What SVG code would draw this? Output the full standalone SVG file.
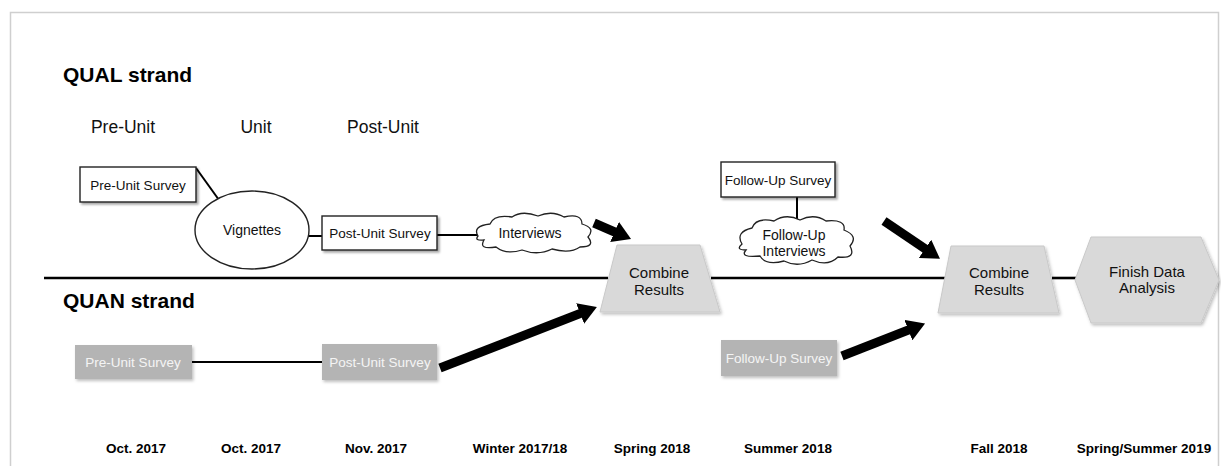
<svg xmlns="http://www.w3.org/2000/svg" width="1221" height="466" viewBox="0 0 1221 466">
<defs>
<style>
.t{font-family:"Liberation Sans",Arial,sans-serif;fill:#111;text-anchor:middle}
.h{font-family:"Liberation Sans",Arial,sans-serif;font-weight:bold;font-size:21px;fill:#000}
.ph{font-size:17.5px}
.bx{font-size:13.5px}
.nd{font-size:14px}
.sh{font-size:15px}
.dt{font-size:13.5px;font-weight:bold;fill:#000}
.wbox{fill:#fff;stroke:#222;stroke-width:1.4;filter:url(#ds)}
.gbox{fill:#b4b4b4;filter:url(#ds2)}
.gt{fill:#f4f4f4}
.gshape{fill:#d9d9d9;stroke:#c9c9c9;stroke-width:1;filter:url(#ds2)}
.ln{stroke:#000;stroke-width:2;fill:none}
.main{stroke:#000;stroke-width:2.6;fill:none}
.big{stroke:#000;stroke-width:9;fill:none;marker-end:url(#ah)}
</style>
<filter id="ds" x="-10%" y="-10%" width="130%" height="140%">
<feDropShadow dx="2" dy="2" stdDeviation="1.2" flood-color="#000" flood-opacity="0.35"/>
</filter>
<filter id="ds2" x="-10%" y="-10%" width="130%" height="140%">
<feDropShadow dx="1.5" dy="2" stdDeviation="1.5" flood-color="#000" flood-opacity="0.25"/>
</filter>
<marker id="ah" markerUnits="userSpaceOnUse" viewBox="0 0 18 22" markerWidth="18" markerHeight="22" refX="9" refY="11" orient="auto">
<path d="M0,0 L18,11 L0,22 Z" fill="#000"/>
</marker>
</defs>
<rect x="0" y="0" width="1221" height="466" fill="#fff"/>
<rect x="10.5" y="12.5" width="1208" height="480" fill="none" stroke="#cfcfcf" stroke-width="1.5"/>

<g id="labels">
<text class="h" x="63" y="82">QUAL strand</text>
<text class="h" x="63" y="308">QUAN strand</text>
<text class="t ph" x="123" y="133">Pre-Unit</text>
<text class="t ph" x="256" y="133">Unit</text>
<text class="t ph" x="383" y="133">Post-Unit</text>
</g>

<g id="connectors">
<line class="main" x1="44" y1="278" x2="608" y2="278"/>
<line class="main" x1="711" y1="278" x2="947" y2="278"/>
<line class="main" x1="1052" y1="278" x2="1076" y2="278"/>
<line class="ln" x1="196" y1="168" x2="219" y2="200"/>
<line class="ln" x1="307" y1="236" x2="322" y2="236"/>
<line class="ln" x1="437" y1="235" x2="478" y2="235"/>
<line class="ln" x1="797" y1="197" x2="797" y2="220"/>
<line class="ln" x1="192" y1="362" x2="322" y2="362"/>
<line class="big" x1="594" y1="223" x2="622.8" y2="235.5"/>
<line class="big" x1="440" y1="368" x2="588.5" y2="310.3"/>
<line class="big" x1="884" y1="221" x2="932.5" y2="253.8"/>
<line class="big" x1="842" y1="356" x2="916.7" y2="326.8"/>
</g>

<g id="qual-pre-survey">
<rect class="wbox" x="80" y="167" width="116" height="35"/>
<text class="t bx" x="138" y="190">Pre-Unit Survey</text>
</g>
<g id="vignettes">
<ellipse cx="252" cy="230" rx="57" ry="39" fill="#fff" stroke="#222" stroke-width="1.4"/>
<text class="t nd" x="252" y="235">Vignettes</text>
</g>
<g id="qual-post-survey">
<rect class="wbox" x="322" y="216" width="115" height="34"/>
<text class="t bx" x="380" y="238">Post-Unit Survey</text>
</g>
<g id="interviews">
<path d="M478,236 Q472,226 490,224 Q494,214 512,217 Q522,210 538,216 Q552,210 564,217 Q582,213 582,224 Q596,228 588,237 Q596,247 580,247 Q570,254 552,249 Q538,256 522,250 Q506,255 496,247 Q478,250 484,240 Q474,241 478,236 Z" fill="#fff" stroke="#222" stroke-width="1.3"/>
<text class="t nd" x="530" y="238">Interviews</text>
</g>
<g id="followup-survey">
<rect class="wbox" x="721" y="162" width="114" height="35"/>
<text class="t bx" x="778" y="185">Follow-Up Survey</text>
</g>
<g id="followup-interviews">
<path d="M742,244 Q735,232 752,228 Q756,217 774,221 Q786,213 800,220 Q814,213 826,221 Q846,219 844,230 Q859,236 850,246 Q857,259 838,257 Q828,267 812,260 Q798,268 784,261 Q766,266 760,256 Q739,258 746,250 Q735,250 742,244 Z" fill="#fff" stroke="#222" stroke-width="1.3"/>
<text class="t nd" x="794" y="240">Follow-Up</text>
<text class="t nd" x="794" y="256">Interviews</text>
</g>
<g id="combine-1">
<polygon class="gshape" points="617,245 700,245 720,312 600,312"/>
<text class="t sh" x="659" y="278">Combine</text>
<text class="t sh" x="659" y="295">Results</text>
</g>
<g id="combine-2">
<polygon class="gshape" points="951,246 1044,246 1059,313 938,313"/>
<text class="t sh" x="999" y="278">Combine</text>
<text class="t sh" x="999" y="295">Results</text>
</g>
<g id="finish">
<polygon class="gshape" points="1075,280 1091,237 1201,237 1219,280 1201,323 1091,323"/>
<text class="t sh" x="1147" y="277">Finish Data</text>
<text class="t sh" x="1147" y="293">Analysis</text>
</g>
<g id="quan-pre-survey">
<rect class="gbox" x="75" y="345" width="117" height="34"/>
<text class="t bx gt" x="133" y="367">Pre-Unit Survey</text>
</g>
<g id="quan-post-survey">
<rect class="gbox" x="322" y="344" width="115" height="36"/>
<text class="t bx gt" x="380" y="367">Post-Unit Survey</text>
</g>
<g id="quan-followup-survey">
<rect class="gbox" x="721" y="340" width="116" height="36"/>
<text class="t bx gt" x="779" y="363">Follow-Up Survey</text>
</g>

<g id="dates">
<text class="t dt" x="136" y="453">Oct. 2017</text>
<text class="t dt" x="251" y="453">Oct. 2017</text>
<text class="t dt" x="376" y="453">Nov. 2017</text>
<text class="t dt" x="520" y="453">Winter 2017/18</text>
<text class="t dt" x="652" y="453">Spring 2018</text>
<text class="t dt" x="788" y="453">Summer 2018</text>
<text class="t dt" x="999" y="453">Fall 2018</text>
<text class="t dt" x="1144" y="453">Spring/Summer 2019</text>
</g>
</svg>
